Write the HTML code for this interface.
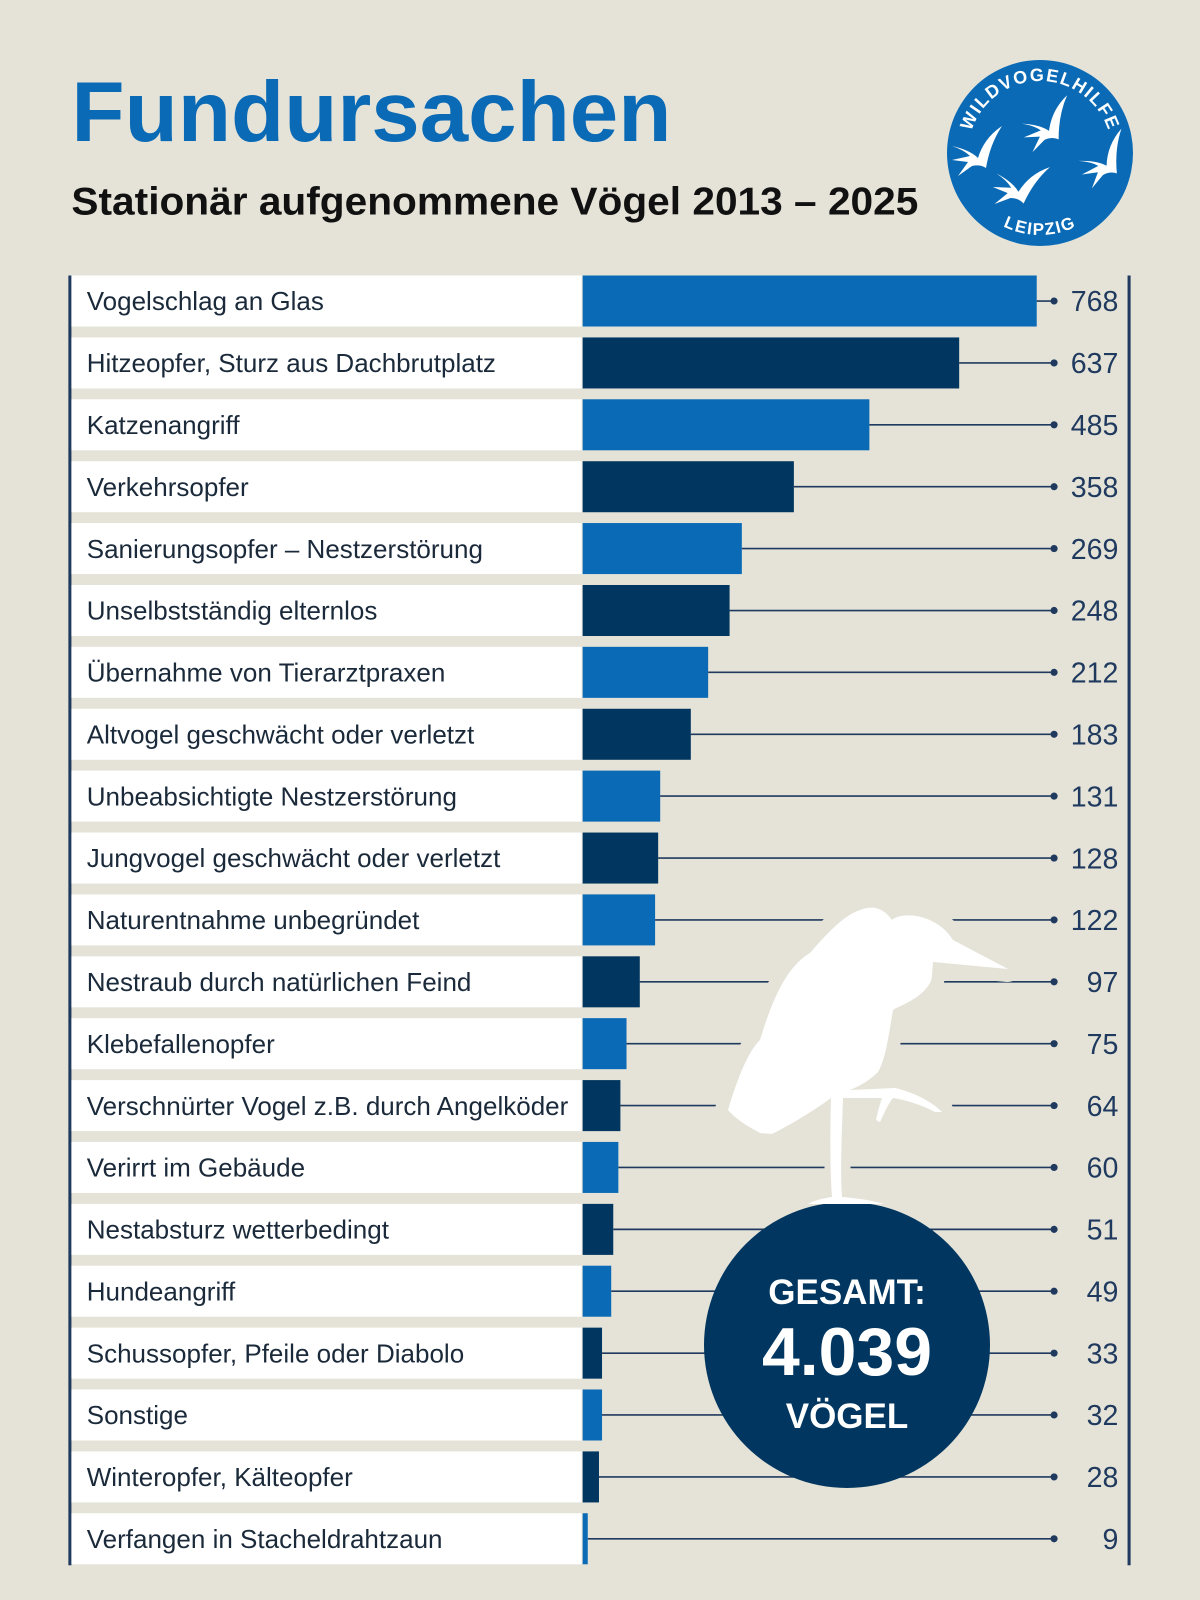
<!DOCTYPE html>
<html><head><meta charset="utf-8"><style>
html,body{margin:0;padding:0;background:#e5e3d8;}
svg{display:block;font-family:"Liberation Sans",sans-serif;}
.l{font-size:25.5px;fill:#1b2a3a;}
.n{font-size:28px;fill:#1f3a5e;text-anchor:end;}
.ld{stroke:#1f3a5e;stroke-width:1.6;}
.b{fill:#0a6ab5}.d{fill:#00365f}
</style></head><body>
<svg width="1200" height="1600" viewBox="0 0 1200 1600" xmlns="http://www.w3.org/2000/svg">
<rect width="1200" height="1600" fill="#e5e3d8"/>
<g transform="scale(1.0204)">
<text x="70" y="138" font-size="84" font-weight="bold" fill="#0a6ab5" textLength="588" lengthAdjust="spacingAndGlyphs">Fundursachen</text>
<text x="70" y="210" font-size="38" font-weight="bold" fill="#111" textLength="830" lengthAdjust="spacingAndGlyphs">Stationär aufgenommene Vögel 2013 – 2025</text>

<rect x="67" y="270" width="3" height="1264" fill="#1f3a5e"/>
<rect x="1105" y="270" width="3" height="1264" fill="#1f3a5e"/>

<rect x="70" y="270" width="500" height="50" fill="#fff"/><rect class="b" x="571" y="270" width="445" height="50"/><line class="ld" x1="1016" y1="295" x2="1033" y2="295"/><circle cx="1033" cy="295" r="3.5" fill="#1f3a5e"/><text class="l" x="85" y="304">Vogelschlag an Glas</text><text class="n" x="1096" y="305">768</text>
<rect x="70" y="330.7" width="500" height="50" fill="#fff"/><rect class="d" x="571" y="330.7" width="369" height="50"/><line class="ld" x1="940" y1="355.7" x2="1033" y2="355.7"/><circle cx="1033" cy="355.7" r="3.5" fill="#1f3a5e"/><text class="l" x="85" y="364.7">Hitzeopfer, Sturz aus Dachbrutplatz</text><text class="n" x="1096" y="365.7">637</text>
<rect x="70" y="391.3" width="500" height="50" fill="#fff"/><rect class="b" x="571" y="391.3" width="281" height="50"/><line class="ld" x1="852" y1="416.3" x2="1033" y2="416.3"/><circle cx="1033" cy="416.3" r="3.5" fill="#1f3a5e"/><text class="l" x="85" y="425.3">Katzenangriff</text><text class="n" x="1096" y="426.3">485</text>
<rect x="70" y="452" width="500" height="50" fill="#fff"/><rect class="d" x="571" y="452" width="207" height="50"/><line class="ld" x1="778" y1="477" x2="1033" y2="477"/><circle cx="1033" cy="477" r="3.5" fill="#1f3a5e"/><text class="l" x="85" y="486">Verkehrsopfer</text><text class="n" x="1096" y="487">358</text>
<rect x="70" y="512.6" width="500" height="50" fill="#fff"/><rect class="b" x="571" y="512.6" width="156" height="50"/><line class="ld" x1="727" y1="537.6" x2="1033" y2="537.6"/><circle cx="1033" cy="537.6" r="3.5" fill="#1f3a5e"/><text class="l" x="85" y="546.6">Sanierungsopfer – Nestzerstörung</text><text class="n" x="1096" y="547.6">269</text>
<rect x="70" y="573.3" width="500" height="50" fill="#fff"/><rect class="d" x="571" y="573.3" width="144" height="50"/><line class="ld" x1="715" y1="598.3" x2="1033" y2="598.3"/><circle cx="1033" cy="598.3" r="3.5" fill="#1f3a5e"/><text class="l" x="85" y="607.3">Unselbstständig elternlos</text><text class="n" x="1096" y="608.3">248</text>
<rect x="70" y="633.9" width="500" height="50" fill="#fff"/><rect class="b" x="571" y="633.9" width="123" height="50"/><line class="ld" x1="694" y1="658.9" x2="1033" y2="658.9"/><circle cx="1033" cy="658.9" r="3.5" fill="#1f3a5e"/><text class="l" x="85" y="667.9">Übernahme von Tierarztpraxen</text><text class="n" x="1096" y="668.9">212</text>
<rect x="70" y="694.6" width="500" height="50" fill="#fff"/><rect class="d" x="571" y="694.6" width="106" height="50"/><line class="ld" x1="677" y1="719.6" x2="1033" y2="719.6"/><circle cx="1033" cy="719.6" r="3.5" fill="#1f3a5e"/><text class="l" x="85" y="728.6">Altvogel geschwächt oder verletzt</text><text class="n" x="1096" y="729.6">183</text>
<rect x="70" y="755.2" width="500" height="50" fill="#fff"/><rect class="b" x="571" y="755.2" width="76" height="50"/><line class="ld" x1="647" y1="780.2" x2="1033" y2="780.2"/><circle cx="1033" cy="780.2" r="3.5" fill="#1f3a5e"/><text class="l" x="85" y="789.2">Unbeabsichtigte Nestzerstörung</text><text class="n" x="1096" y="790.2">131</text>
<rect x="70" y="815.9" width="500" height="50" fill="#fff"/><rect class="d" x="571" y="815.9" width="74" height="50"/><line class="ld" x1="645" y1="840.9" x2="1033" y2="840.9"/><circle cx="1033" cy="840.9" r="3.5" fill="#1f3a5e"/><text class="l" x="85" y="849.9">Jungvogel geschwächt oder verletzt</text><text class="n" x="1096" y="850.9">128</text>
<rect x="70" y="876.5" width="500" height="50" fill="#fff"/><rect class="b" x="571" y="876.5" width="71" height="50"/><line class="ld" x1="642" y1="901.5" x2="1033" y2="901.5"/><circle cx="1033" cy="901.5" r="3.5" fill="#1f3a5e"/><text class="l" x="85" y="910.5">Naturentnahme unbegründet</text><text class="n" x="1096" y="911.5">122</text>
<rect x="70" y="937.2" width="500" height="50" fill="#fff"/><rect class="d" x="571" y="937.2" width="56" height="50"/><line class="ld" x1="627" y1="962.2" x2="1033" y2="962.2"/><circle cx="1033" cy="962.2" r="3.5" fill="#1f3a5e"/><text class="l" x="85" y="971.2">Nestraub durch natürlichen Feind</text><text class="n" x="1096" y="972.2">97</text>
<rect x="70" y="997.8" width="500" height="50" fill="#fff"/><rect class="b" x="571" y="997.8" width="43" height="50"/><line class="ld" x1="614" y1="1022.8" x2="1033" y2="1022.8"/><circle cx="1033" cy="1022.8" r="3.5" fill="#1f3a5e"/><text class="l" x="85" y="1031.8">Klebefallenopfer</text><text class="n" x="1096" y="1032.8">75</text>
<rect x="70" y="1058.5" width="500" height="50" fill="#fff"/><rect class="d" x="571" y="1058.5" width="37" height="50"/><line class="ld" x1="608" y1="1083.5" x2="1033" y2="1083.5"/><circle cx="1033" cy="1083.5" r="3.5" fill="#1f3a5e"/><text class="l" x="85" y="1092.5">Verschnürter Vogel z.B. durch Angelköder</text><text class="n" x="1096" y="1093.5">64</text>
<rect x="70" y="1119.1" width="500" height="50" fill="#fff"/><rect class="b" x="571" y="1119.1" width="35" height="50"/><line class="ld" x1="606" y1="1144.1" x2="1033" y2="1144.1"/><circle cx="1033" cy="1144.1" r="3.5" fill="#1f3a5e"/><text class="l" x="85" y="1153.1">Verirrt im Gebäude</text><text class="n" x="1096" y="1154.1">60</text>
<rect x="70" y="1179.8" width="500" height="50" fill="#fff"/><rect class="d" x="571" y="1179.8" width="30" height="50"/><line class="ld" x1="601" y1="1204.8" x2="1033" y2="1204.8"/><circle cx="1033" cy="1204.8" r="3.5" fill="#1f3a5e"/><text class="l" x="85" y="1213.8">Nestabsturz wetterbedingt</text><text class="n" x="1096" y="1214.8">51</text>
<rect x="70" y="1240.4" width="500" height="50" fill="#fff"/><rect class="b" x="571" y="1240.4" width="28" height="50"/><line class="ld" x1="599" y1="1265.4" x2="1033" y2="1265.4"/><circle cx="1033" cy="1265.4" r="3.5" fill="#1f3a5e"/><text class="l" x="85" y="1274.4">Hundeangriff</text><text class="n" x="1096" y="1275.4">49</text>
<rect x="70" y="1301.1" width="500" height="50" fill="#fff"/><rect class="d" x="571" y="1301.1" width="19" height="50"/><line class="ld" x1="590" y1="1326.1" x2="1033" y2="1326.1"/><circle cx="1033" cy="1326.1" r="3.5" fill="#1f3a5e"/><text class="l" x="85" y="1335.1">Schussopfer, Pfeile oder Diabolo</text><text class="n" x="1096" y="1336.1">33</text>
<rect x="70" y="1361.7" width="500" height="50" fill="#fff"/><rect class="b" x="571" y="1361.7" width="19" height="50"/><line class="ld" x1="590" y1="1386.7" x2="1033" y2="1386.7"/><circle cx="1033" cy="1386.7" r="3.5" fill="#1f3a5e"/><text class="l" x="85" y="1395.7">Sonstige</text><text class="n" x="1096" y="1396.7">32</text>
<rect x="70" y="1422.4" width="500" height="50" fill="#fff"/><rect class="d" x="571" y="1422.4" width="16" height="50"/><line class="ld" x1="587" y1="1447.4" x2="1033" y2="1447.4"/><circle cx="1033" cy="1447.4" r="3.5" fill="#1f3a5e"/><text class="l" x="85" y="1456.4">Winteropfer, Kälteopfer</text><text class="n" x="1096" y="1457.4">28</text>
<rect x="70" y="1483" width="500" height="50" fill="#fff"/><rect class="b" x="571" y="1483" width="5" height="50"/><line class="ld" x1="576" y1="1508" x2="1033" y2="1508"/><circle cx="1033" cy="1508" r="3.5" fill="#1f3a5e"/><text class="l" x="85" y="1517">Verfangen in Stacheldrahtzaun</text><text class="n" x="1096" y="1518">9</text>
</g>

<!-- logo (original coords) -->
<circle cx="1040" cy="153" r="93" fill="#0a6ab5"/>
<defs>
<path id="arcT" d="M 968 153 A 72 72 0 0 1 1112 153"/>
<path id="arcB" d="M 958 153 A 82 82 0 0 0 1122 153"/>
<path id="sw" d="M -26 -6 Q -8 -2 0 6 Q 6 -14 24 -26 Q 12 -8 8 16 Q 2 12 -6 14 L -20 24 L -10 10 L -26 8 L -8 4 Q -14 -2 -26 -6 Z" fill="#fff"/>
</defs>
<text font-size="18" font-weight="bold" fill="#fff" letter-spacing="1.5"><textPath href="#arcT" startOffset="50%" text-anchor="middle">WILDVOGELHILFE</textPath></text>
<text font-size="17" font-weight="bold" fill="#fff" letter-spacing="1.5"><textPath href="#arcB" startOffset="50%" text-anchor="middle">LEIPZIG</textPath></text>
<use href="#sw" transform="translate(978,152)"/>
<use href="#sw" transform="translate(1048,125) rotate(-10)"/>
<use href="#sw" transform="translate(1020,186) rotate(15)"/>
<use href="#sw" transform="translate(1105,160) rotate(-15)"/>

<!-- heron halo (original coords) -->
<g fill="#e5e3d8" stroke="#e5e3d8" stroke-width="26" stroke-linejoin="round">
<path d="M 860 910 C 875 904 885 910 892 920 C 900 912 935 912 953 940 L 1008 969 L 933 962 C 932 975 932 980 930 983 C 920 1000 900 1005 893 1010 C 888 1040 885 1060 880 1070 C 870 1080 850 1086 840 1090 L 900 1090 C 915 1095 930 1102 940 1110 L 760 1133 C 745 1125 735 1118 728 1110 C 740 1070 750 1050 760 1040 C 775 990 790 965 810 953 C 830 930 845 915 860 910 Z"/>
<path d="M 836 1095 L 838 1190"/>
</g>
<circle cx="847" cy="1345" r="143" fill="#00365f"/>
<g fill="#fff">
<path d="M 860 910 C 875 904 885 910 892 920 C 900 912 935 912 953 940 L 1008 969 L 933 962 C 932 975 932 980 930 983 C 920 1000 900 1005 893 1010 C 888 1040 885 1060 878 1072 C 870 1080 860 1086 850 1090 L 895 1088 C 912 1092 930 1100 942 1112 L 935 1112 C 920 1104 905 1100 893 1098 C 888 1104 885 1112 880 1122 L 876 1120 C 878 1110 880 1104 882 1098 L 843 1098 C 842 1130 840 1170 842 1197 C 855 1198 870 1200 884 1204 L 808 1204 C 815 1200 825 1198 832 1197 C 830 1170 830 1130 831 1098 C 815 1110 790 1125 772 1134 L 760 1133 C 745 1125 735 1118 728 1110 C 740 1070 750 1050 760 1040 C 775 990 790 965 810 953 C 830 930 845 915 860 910 Z"/>
</g>
<g fill="#fff" font-weight="bold" text-anchor="middle">
<text x="847" y="1304" font-size="35">GESAMT:</text>
<text x="847" y="1375" font-size="68" textLength="170" lengthAdjust="spacingAndGlyphs">4.039</text>
<text x="847" y="1428" font-size="35">VÖGEL</text>
</g>
</svg>
</body></html>
